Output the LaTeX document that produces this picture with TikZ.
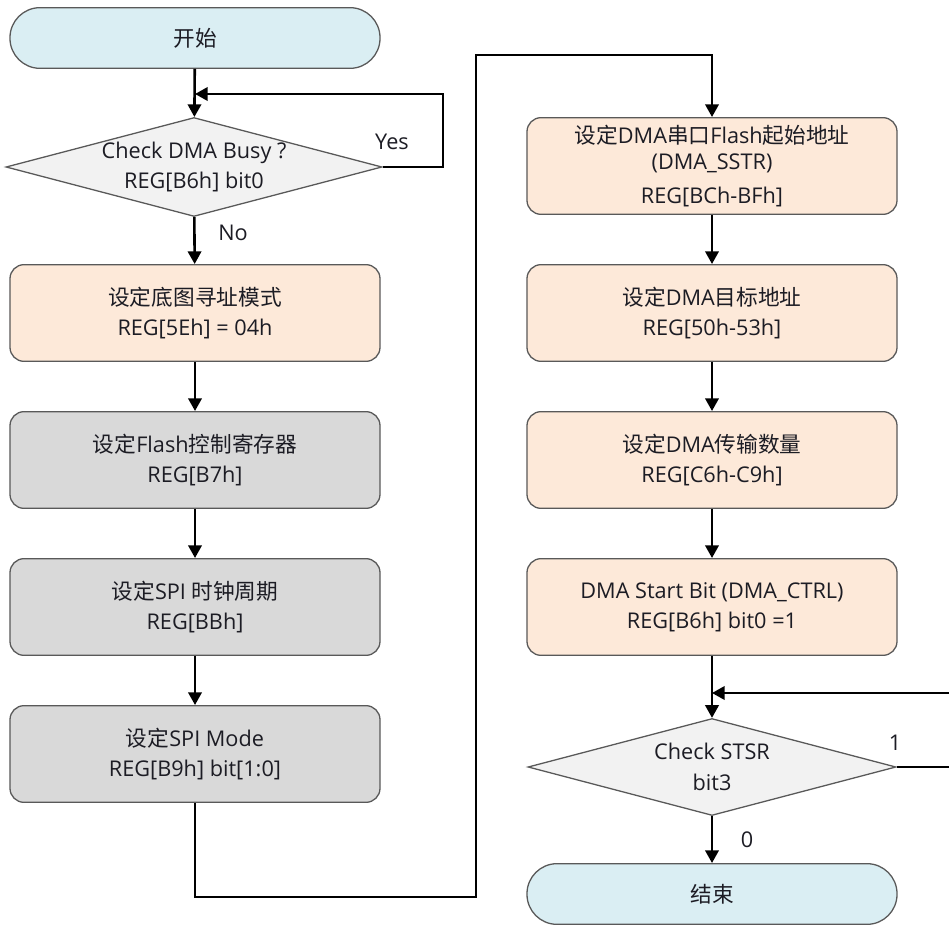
\documentclass[tikz,border=0pt]{standalone}
\usepackage{fontspec}
\setmainfont{Open Sans}
\newfontfamily\zhfont{Noto Sans CJK SC}
\newcommand{\zh}[1]{{\zhfont #1}}
\usetikzlibrary{shapes.geometric,arrows.meta}
\definecolor{termfill}{HTML}{DAEEF3}
\definecolor{setfill}{HTML}{FDE9D9}
\definecolor{flashfill}{HTML}{D9D9D9}
\definecolor{testfill}{HTML}{F2F2F2}
\definecolor{edgegray}{HTML}{595959}
\definecolor{inkgray}{HTML}{1C1C24}

\begin{document}
\begin{tikzpicture}[x=.03cm,y=-.03cm,>={Triangle[length=.38cm,width=.4cm]},line width=2.2pt,
  font=\fontsize{18.5pt}{26pt}\selectfont,text=inkgray,
  term/.style={draw=edgegray,line width=1.1pt,fill=termfill,rounded corners=.9cm,
    minimum width=11.1cm,minimum height=1.82cm,align=center},
  setbox/.style={draw=edgegray,line width=1.1pt,fill=setfill,rounded corners=.42cm,
    minimum width=11.1cm,minimum height=2.9cm,align=center},
  flashbox/.style={setbox,fill=flashfill},
  test/.style={diamond,aspect=3.8,inner sep=0pt,draw=edgegray,line width=1.1pt,fill=testfill,
    minimum width=11.04cm,minimum height=2.91cm,align=center}]
  \useasboundingbox (0,0) rectangle (949,925);
  % left column
  \node[term] (start) at (195,38) {\zh{开始}};
  \node[test] (busy) at (194,167) {Check DMA Busy ?\\REG[B6h] bit0};
  \node[setbox] (mode) at (195,313) {\zh{设定底图寻址模式}\\REG[5Eh] = 04h};
  \node[flashbox] (flashctl) at (195,460) {\zh{设定}Flash\zh{控制寄存器}\\REG[B7h]};
  \node[flashbox] (spiclk) at (195,607) {\zh{设定}SPI \zh{时钟周期}\\REG[BBh]};
  \node[flashbox] (spimode) at (195,754) {\zh{设定}SPI Mode\\REG[B9h] bit[1:0]};
  % right column
  \node[setbox] (dmasrc) at (712,166) {\zh{设定}DMA\zh{串口}Flash\zh{起始地址}\\[-3pt](DMA\_SSTR)\\[3pt]REG[BCh-BFh]};
  \node[setbox] (dmadst) at (712,313) {\zh{设定}DMA\zh{目标地址}\\REG[50h-53h]};
  \node[setbox] (dmacnt) at (712,460) {\zh{设定}DMA\zh{传输数量}\\REG[C6h-C9h]};
  \node[setbox] (dmastart) at (712,607) {DMA Start Bit (DMA\_CTRL)\\REG[B6h] bit0 =1};
  \node[test] (stsr) at (712,767) {Check STSR\\bit3};
  \node[term] (finish) at (712,894) {\zh{结束}};
  % labels
  \node (yes) at (392,142) {Yes};
  \node (no) at (233,233) {No};
  \node (one) at (895,743) {1};
  \node (zero) at (747,840) {0};
  % turn points
  \coordinate (yescorner) at (443,94);
  \coordinate (yesjoin) at (195,94);
  \coordinate (linkbot) at (476,897);
  \coordinate (linktop) at (476,55);
  \coordinate (loopcorner) at (965,693);
  \coordinate (loopjoin) at (712,693);
  % connectors
  \draw[->] (start) -- (busy);
  \draw[->] (busy.east) -| (yescorner) -- (yesjoin);
  \draw[->] (busy) -- (mode);
  \draw[->] (mode) -- (flashctl);
  \draw[->] (flashctl) -- (spiclk);
  \draw[->] (spiclk) -- (spimode);
  \draw[->] (spimode.south) |- (linkbot) -- (linktop) -| (dmasrc.north);
  \draw[->] (dmasrc) -- (dmadst);
  \draw[->] (dmadst) -- (dmacnt);
  \draw[->] (dmacnt) -- (dmastart);
  \draw[->] (dmastart) -- (stsr);
  \draw[->] (stsr.east) -| (loopcorner) -- (loopjoin);
  \draw[->] (stsr) -- (finish);
\end{tikzpicture}
\end{document}
